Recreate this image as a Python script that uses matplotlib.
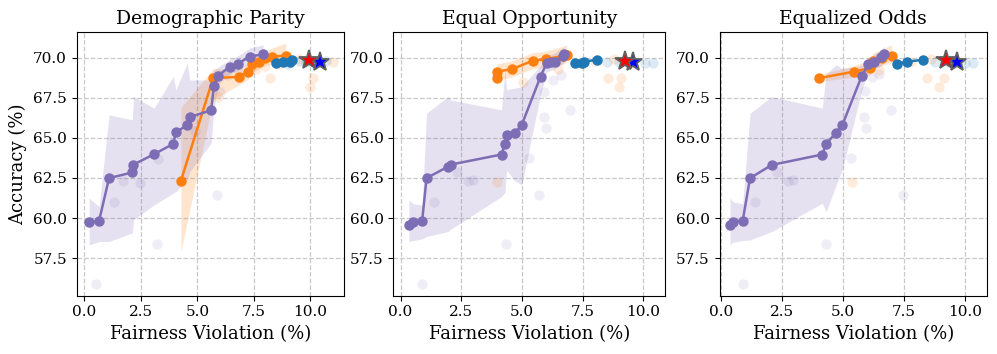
import matplotlib
matplotlib.use("Agg")
from matplotlib import pyplot as plt

plt.rcParams['font.family'] = ['DejaVu Serif']

titles = ["Demographic Parity", "Equal Opportunity", "Equalized Odds"]
x_ticks = [0.0, 2.5, 5.0, 7.5, 10.0]
y_ticks = [57.5, 60.0, 62.5, 65.0, 67.5, 70.0]

# ---- Demographic Parity
dp_purple_x = [0.21, 0.65, 1.09, 2.12, 2.17, 3.08, 3.93, 4.05, 4.55, 4.67, 5.61, 5.73, 5.91, 6.44, 6.78, 7.32, 7.91]
dp_purple_y = [59.74, 59.84, 62.49, 62.84, 63.33, 63.98, 64.62, 65.35, 65.79, 66.29, 66.72, 68.22, 68.86, 69.44, 69.61, 70.06, 70.21]
dp_purple_lo = [58.33, 58.54, 58.54, 59.08, 59.89, 60.82, 61.55, 61.65, 62.38, 62.9, 64.68, 66.74, 68.3, 69.0, 69.2, 69.6, 69.8]
dp_purple_hi = [61.24, 60.72, 66.43, 66.12, 67.57, 66.85, 68.82, 68.0, 69.65, 68.6, 68.6, 69.23, 69.4, 69.9, 70.1, 70.6, 70.8]
dp_orange_x = [4.27, 5.70, 6.85, 7.22, 7.44, 7.73, 7.98, 8.32, 8.91]
dp_orange_y = [62.32, 68.72, 68.80, 69.13, 69.59, 69.75, 69.96, 70.06, 70.12]
dp_orange_lo = [57.9, 67.4, 68.3, 68.6, 69.1, 69.3, 69.5, 69.6, 69.7]
dp_orange_hi = [66.9, 69.3, 69.3, 69.6, 70.0, 70.2, 70.4, 70.6, 70.9]
dp_blue_x = [8.5, 8.8, 9.1, 9.2]
dp_blue_y = [69.65, 69.70, 69.75, 69.85]
dp_red_star = (9.94, 69.86)
dp_blue_star = (10.44, 69.75)
dp_faint_purple_x = [0.52, 1.33, 1.72, 2.46, 3.2, 3.24, 5.89, 6.0, 4.9, 6.3, 6.8]
dp_faint_purple_y = [55.9, 60.99, 62.34, 62.17, 58.37, 63.67, 61.45, 67.88, 65.4, 68.9, 69.2]
dp_faint_orange_x = [8.2, 10.1, 10.0, 11.0, 5.92, 7.6, 8.0, 9.5, 8.6]
dp_faint_orange_y = [68.7, 68.7, 68.15, 69.75, 67.57, 69.3, 69.5, 69.9, 69.6]
dp_faint_blue_x = [9.5, 9.8, 10.3, 10.7, 9.0]
dp_faint_blue_y = [69.8, 69.75, 69.7, 69.8, 69.6]

# ---- Equal Opportunity
eop_purple_x = [0.34, 0.52, 0.89, 1.07, 1.96, 2.06, 4.16, 4.30, 4.37, 4.72, 4.99, 5.77, 6.02, 6.20, 6.36, 6.68, 6.73]
eop_purple_y = [59.58, 59.76, 59.84, 62.49, 63.21, 63.33, 63.96, 64.62, 65.18, 65.31, 65.79, 68.82, 69.65, 69.7, 69.75, 70.1, 70.21]
eop_purple_lo = [58.54, 58.6, 58.7, 58.85, 59.16, 59.3, 61.34, 61.6, 63.0, 62.3, 62.07, 67.7, 69.1, 69.2, 69.3, 69.6, 69.7]
eop_purple_hi = [61.13, 60.9, 60.8, 66.54, 67.57, 67.36, 66.74, 69.23, 68.0, 68.1, 68.19, 69.5, 70.1, 70.2, 70.3, 70.6, 70.7]
eop_orange_x = [3.96, 3.98, 4.6, 5.44, 5.98, 6.7, 6.84]
eop_orange_y = [68.72, 69.13, 69.28, 69.8, 69.9, 70.1, 70.17]
eop_orange_lo = [68.3, 68.6, 68.8, 69.3, 69.4, 69.6, 69.7]
eop_orange_hi = [69.3, 69.6, 69.8, 70.3, 70.4, 70.7, 70.8]
eop_blue_x = [7.18, 7.46, 7.56, 8.08]
eop_blue_y = [69.65, 69.69, 69.75, 69.86]
eop_red_star = (9.27, 69.81)
eop_blue_star = (9.56, 69.75)
eop_faint_purple_x = [0.87, 1.39, 2.31, 2.79, 2.99, 4.34, 5.7, 5.3, 5.91, 5.99, 5.91, 6.98, 6.3, 6.6]
eop_faint_purple_y = [55.9, 60.99, 62.9, 62.28, 62.4, 58.37, 61.45, 63.73, 66.29, 65.6, 67.88, 66.74, 68.6, 68.9]
eop_faint_orange_x = [3.96, 5.03, 8.53, 9.01, 9.1, 7.5, 8.0, 8.8, 6.5]
eop_faint_orange_y = [62.27, 68.5, 68.72, 68.15, 68.7, 69.6, 69.8, 69.9, 69.3]
eop_faint_blue_x = [10.41, 10.07, 9.0, 8.5]
eop_faint_blue_y = [69.65, 69.65, 69.7, 69.75]

# ---- Equalized Odds
eod_purple_x = [0.38, 0.51, 0.90, 1.20, 2.09, 4.16, 4.32, 4.73, 4.98, 5.78, 6.05, 6.30, 6.57, 6.71]
eod_purple_y = [59.58, 59.78, 59.84, 62.49, 63.31, 63.96, 64.62, 65.33, 65.79, 68.86, 69.59, 69.75, 70.06, 70.23]
eod_purple_lo = [58.33, 58.5, 58.6, 58.64, 59.16, 60.93, 60.4, 62.07, 63.0, 67.99, 69.1, 69.3, 69.5, 69.7]
eod_purple_hi = [61.24, 61.0, 60.9, 66.53, 67.57, 66.85, 69.0, 69.55, 69.3, 69.5, 70.0, 70.2, 70.5, 70.7]
eod_orange_x = [4.04, 5.48, 6.11, 6.25, 6.6, 7.0]
eod_orange_y = [68.72, 69.13, 69.34, 69.8, 69.95, 70.12]
eod_orange_lo = [68.5, 68.8, 68.9, 69.3, 69.5, 69.7]
eod_orange_hi = [68.95, 69.5, 69.9, 70.3, 70.5, 70.8]
eod_blue_x = [7.24, 7.65, 8.29]
eod_blue_y = [69.61, 69.75, 69.86]
eod_red_star = (9.22, 69.86)
eod_blue_star = (9.7, 69.75)
eod_faint_purple_x = [0.9, 1.41, 2.3, 2.75, 2.96, 4.31, 7.48, 5.32, 5.87, 5.96, 6.96, 6.2, 6.5, 5.9]
eod_faint_purple_y = [55.9, 60.99, 62.9, 62.3, 62.4, 58.37, 61.45, 63.73, 66.29, 65.6, 66.74, 68.8, 69.0, 67.9]
eod_faint_orange_x = [5.36, 8.47, 8.95, 9.15, 6.5, 7.8, 8.6]
eod_faint_orange_y = [62.27, 68.72, 68.15, 68.7, 69.2, 69.7, 69.9]
eod_faint_blue_x = [10.32, 10.0, 8.8, 9.3]
eod_faint_blue_y = [69.65, 69.65, 69.7, 69.75]

PURPLE = '#7d6db5'
ORANGE = '#ff7f0e'
BLUE = '#1f77b4'

panels = [
    (dp_purple_x, dp_purple_y, dp_purple_lo, dp_purple_hi, dp_orange_x, dp_orange_y, dp_orange_lo, dp_orange_hi,
     dp_blue_x, dp_blue_y, dp_red_star, dp_blue_star,
     dp_faint_purple_x, dp_faint_purple_y, dp_faint_orange_x, dp_faint_orange_y, dp_faint_blue_x, dp_faint_blue_y),
    (eop_purple_x, eop_purple_y, eop_purple_lo, eop_purple_hi, eop_orange_x, eop_orange_y, eop_orange_lo, eop_orange_hi,
     eop_blue_x, eop_blue_y, eop_red_star, eop_blue_star,
     eop_faint_purple_x, eop_faint_purple_y, eop_faint_orange_x, eop_faint_orange_y, eop_faint_blue_x, eop_faint_blue_y),
    (eod_purple_x, eod_purple_y, eod_purple_lo, eod_purple_hi, eod_orange_x, eod_orange_y, eod_orange_lo, eod_orange_hi,
     eod_blue_x, eod_blue_y, eod_red_star, eod_blue_star,
     eod_faint_purple_x, eod_faint_purple_y, eod_faint_orange_x, eod_faint_orange_y, eod_faint_blue_x, eod_faint_blue_y),
]

positions = [[0.077, 0.165, 0.268, 0.744], [0.3945, 0.165, 0.273, 0.744], [0.7217, 0.165, 0.268, 0.744]]
xlims = [(-0.34, 11.49), (-0.3, 10.92), (-0.05, 10.9)]

fig = plt.figure(figsize=(9.97, 3.54), dpi=100)

for i, p in enumerate(panels):
    (px, py, plo, phi, ox, oy, olo, ohi, bx, by, rstar, bstar,
     fpx, fpy, fox, foy, fbx, fby) = p
    ax = fig.add_axes(positions[i])
    ax.grid(True, linestyle='--', color='#c8c8c8', linewidth=0.9, zorder=0)
    ax.set_axisbelow(True)

    ax.fill_between(ox, olo, ohi, color=ORANGE, alpha=0.2, linewidth=0, zorder=1)
    ax.fill_between(px, plo, phi, color=PURPLE, alpha=0.2, linewidth=0, zorder=1)

    ax.scatter(fpx, fpy, s=55, color=PURPLE, alpha=0.12, linewidths=0, zorder=2)
    ax.scatter(fox, foy, s=55, color=ORANGE, alpha=0.15, linewidths=0, zorder=2)
    ax.scatter(fbx, fby, s=55, color=BLUE, alpha=0.15, linewidths=0, zorder=2)

    ax.plot(ox, oy, '-o', color=ORANGE, lw=1.8, ms=6.5, zorder=3)
    ax.plot(px, py, '-o', color=PURPLE, lw=1.8, ms=6.5, zorder=4)
    ax.plot(bx, by, '-o', color=BLUE, lw=1.8, ms=6.5, zorder=5)

    ax.plot([bstar[0]], [bstar[1]], marker='*', color='blue', ms=14, mec='#606060', mew=1.3, zorder=6)
    ax.plot([rstar[0]], [rstar[1]], marker='*', color='red', ms=15, mec='#606060', mew=1.3, zorder=7)

    ax.set_xlim(*xlims[i])
    ax.set_ylim(55.17, 71.58)
    ax.set_xticks(x_ticks)
    ax.set_yticks(y_ticks)
    ax.tick_params(labelsize=11)
    ax.set_title(titles[i], fontsize=13.5)
    ax.set_xlabel("Fairness Violation (%)", fontsize=13)
    if i == 0:
        ax.set_ylabel("Accuracy (%)", fontsize=13)

fig.savefig("out.png", dpi=100)
